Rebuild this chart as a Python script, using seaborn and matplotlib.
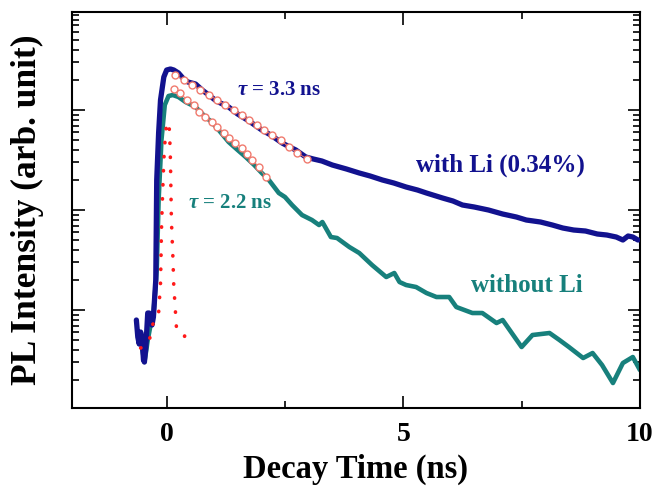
import numpy as np
import pandas as pd
import matplotlib
matplotlib.use('Agg')
import matplotlib.pyplot as plt
import seaborn as sns
from matplotlib.ticker import MultipleLocator, LogLocator, NullFormatter

# decay time (ns) and log10 of PL intensity
with_li_t = [-0.64, -0.61, -0.58, -0.55, -0.52, -0.49, -0.47, -0.44, -0.40, -0.37,
             -0.34, -0.31, -0.28, -0.23, -0.21, -0.17, -0.13, -0.06, 0.00, 0.08,
             0.15, 0.25, 0.36, 0.45, 0.61, 0.75, 0.89, 1.05, 1.31, 1.5,
             1.74, 2.01, 2.2, 2.44, 2.6, 2.73, 2.94, 3.1, 3.28, 3.5,
             3.8, 4.07, 4.3, 4.56, 4.8, 5.06, 5.3, 5.49, 5.83, 6.05,
             6.25, 6.5, 6.8, 7.1, 7.39, 7.6, 7.9, 8.15, 8.37, 8.6,
             8.85, 9.1, 9.3, 9.5, 9.64, 9.75, 9.85, 9.96]
with_li_log = [0.90, 0.73, 0.66, 0.78, 0.72, 0.50, 0.48, 0.63, 0.97, 0.97,
               0.95, 0.85, 0.93, 1.30, 2.30, 2.77, 3.10, 3.33, 3.40, 3.41,
               3.40, 3.37, 3.31, 3.28, 3.26, 3.20, 3.15, 3.09, 3.03, 2.96,
               2.89, 2.80, 2.75, 2.67, 2.63, 2.60, 2.53, 2.51, 2.49, 2.45,
               2.41, 2.37, 2.34, 2.30, 2.27, 2.23, 2.20, 2.17, 2.12, 2.09,
               2.05, 2.03, 2.00, 1.96, 1.93, 1.90, 1.88, 1.85, 1.82, 1.80,
               1.79, 1.76, 1.75, 1.73, 1.70, 1.74, 1.73, 1.70]

without_li_t = [-0.59, -0.53, -0.47, -0.43, -0.40, -0.34, -0.28, -0.21, -0.17, -0.11,
                -0.04, 0.04, 0.13, 0.25, 0.40, 0.61, 0.80, 0.95, 1.10, 1.31,
                1.50, 1.67, 1.85, 2.01, 2.16, 2.37, 2.50, 2.65, 2.86, 3.07,
                3.22, 3.29, 3.47, 3.60, 3.86, 4.07, 4.34, 4.64, 4.81, 4.92,
                5.06, 5.27, 5.49, 5.70, 5.97, 6.12, 6.46, 6.67, 6.97, 7.10,
                7.50, 7.73, 8.09, 8.30, 8.50, 8.80, 9.00, 9.20, 9.43, 9.64,
                9.85, 10.0]
without_li_log = [0.75, 0.65, 0.48, 0.60, 0.70, 0.85, 0.95, 1.40, 2.10, 2.70,
                  3.05, 3.14, 3.15, 3.13, 3.08, 3.03, 2.94, 2.88, 2.80, 2.68,
                  2.60, 2.53, 2.45, 2.37, 2.30, 2.17, 2.13, 2.05, 1.95, 1.90,
                  1.85, 1.88, 1.73, 1.72, 1.63, 1.57, 1.45, 1.33, 1.37, 1.28,
                  1.25, 1.23, 1.17, 1.13, 1.13, 1.03, 0.97, 0.97, 0.87, 0.90,
                  0.63, 0.75, 0.77, 0.70, 0.63, 0.52, 0.57, 0.45, 0.27, 0.47,
                  0.53, 0.40]

# instrument response (red dots)
irf_t = [-0.55, -0.44, -0.36, -0.30, -0.17, -0.15, -0.13, -0.12, -0.11, -0.09,
         -0.06, -0.02, 0.02, 0.06, 0.08, 0.09, 0.10, 0.13, 0.15, 0.19,
         0.21, 0.28, 0.38, 0.34]
irf_log = [0.62, 0.65, 0.71, 0.85, 0.97, 1.12, 1.27, 1.50, 1.80, 2.10,
           2.50, 2.80, 2.88, 2.80, 2.50, 2.20, 1.90, 1.55, 1.25, 0.95,
           0.80, 0.78, 0.74, 0.63]

# fitted points (open circles)
fit_li_t = [0.18, 0.36, 0.54, 0.71, 0.89, 1.07, 1.24, 1.42, 1.60, 1.74,
            1.91, 2.06, 2.23, 2.41, 2.58, 2.76, 2.97]
fit_li_log = [3.35, 3.30, 3.25, 3.20, 3.15, 3.10, 3.05, 3.00, 2.95, 2.90,
              2.85, 2.80, 2.75, 2.70, 2.63, 2.57, 2.51]
fit_noli_t = [0.15, 0.29, 0.43, 0.57, 0.68, 0.82, 0.96, 1.07, 1.21, 1.31,
              1.45, 1.60, 1.70, 1.81, 1.95, 2.09]
fit_noli_log = [3.21, 3.17, 3.10, 3.05, 2.98, 2.93, 2.88, 2.83, 2.77, 2.72,
                2.67, 2.62, 2.56, 2.50, 2.43, 2.33]

navy = '#12128f'
teal = '#17807c'
red = '#ff1a1a'
salmon = '#f07a6e'

sns.set_style('ticks')
plt.rcParams['font.family'] = ['Liberation Serif', 'DejaVu Serif']
plt.rcParams['font.weight'] = 'bold'
plt.rcParams['mathtext.fontset'] = 'custom'
plt.rcParams['mathtext.it'] = 'Liberation Serif:italic:bold'
plt.rcParams['mathtext.rm'] = 'Liberation Serif:bold'
plt.rcParams['text.color'] = 'black'
plt.rcParams['axes.labelcolor'] = 'black'
plt.rcParams['axes.edgecolor'] = 'black'
plt.rcParams['xtick.color'] = 'black'
plt.rcParams['ytick.color'] = 'black'

fig = plt.figure(figsize=(6.57, 4.90), dpi=100)
ax = fig.add_axes([0.1096, 0.1673, 0.8644, 0.8082])


def frame(t, logv):
    return pd.DataFrame({'t': t, 'I': 10 ** np.asarray(logv)})


sns.lineplot(data=frame(with_li_t, with_li_log), x='t', y='I', sort=False,
             estimator=None, color=navy, lw=3.8, ax=ax, zorder=3)
sns.lineplot(data=frame(without_li_t, without_li_log), x='t', y='I', sort=False,
             estimator=None, color=teal, lw=3.3, ax=ax, zorder=2)
sns.lineplot(data=frame(irf_t, irf_log), x='t', y='I', sort=False,
             estimator=None, color=red, lw=2.6, ax=ax, zorder=4,
             linestyle=(0, (0.1, 3.8)), dash_capstyle='round')
for t, lv in [(fit_li_t, fit_li_log), (fit_noli_t, fit_noli_log)]:
    sns.lineplot(data=frame(t, lv), x='t', y='I', sort=False, estimator=None,
                 color=salmon, lw=0.7, marker='o', markersize=5,
                 markerfacecolor='white', markeredgecolor=salmon,
                 markeredgewidth=1.0, ax=ax, zorder=5)

ax.set_yscale('log')
ax.set_xlim(-2, 10)
ax.set_ylim(10 ** 0.02, 10 ** 3.98)
ax.xaxis.set_major_locator(MultipleLocator(5))
ax.xaxis.set_minor_locator(MultipleLocator(2.5))
ax.yaxis.set_major_locator(LogLocator(base=10))
ax.yaxis.set_minor_locator(LogLocator(base=10, subs=np.arange(2, 10)))
ax.yaxis.set_major_formatter(NullFormatter())
ax.yaxis.set_minor_formatter(NullFormatter())
ax.tick_params(which='both', direction='in', top=True, right=True, width=1.2,
               labelsize=20, pad=10)
ax.tick_params(which='major', length=9)
ax.tick_params(which='minor', length=5)
for s in ax.spines.values():
    s.set_linewidth(1.5)

ax.set_xlabel('Decay Time (ns)', fontsize=23.5, fontweight='bold', labelpad=5)
ax.set_ylabel('PL Intensity (arb. unit)', fontsize=25.5, fontweight='bold', labelpad=10)

ax.text(2.37, 10 ** 3.2, r'$\tau$ = 3.3 ns', color=navy, fontsize=15,
        fontweight='bold', ha='center', va='center')
ax.text(1.33, 10 ** 2.07, r'$\tau$ = 2.2 ns', color=teal, fontsize=15,
        fontweight='bold', ha='center', va='center')
ax.text(7.05, 10 ** 2.45, 'with Li (0.34%)', color=navy, fontsize=18,
        fontweight='bold', ha='center', va='center')
ax.text(7.6, 10 ** 1.25, 'without Li', color=teal, fontsize=18,
        fontweight='bold', ha='center', va='center')

fig.savefig('out.png', dpi=100)
